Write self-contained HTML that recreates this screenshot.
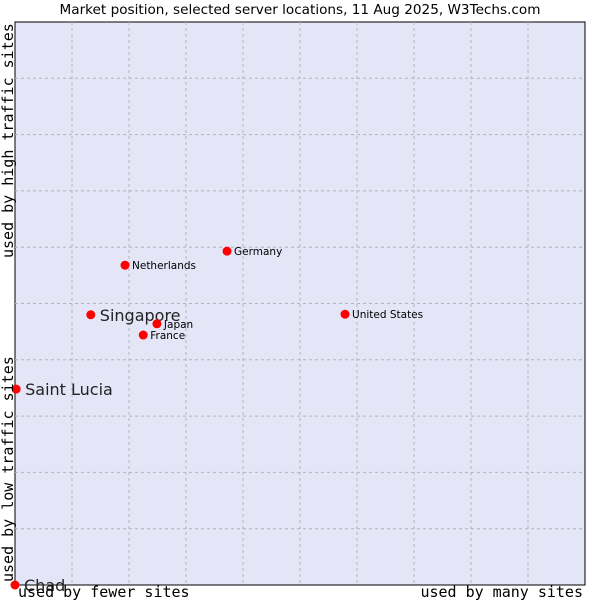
<!DOCTYPE html>
<html><head><meta charset="utf-8"><style>
body{margin:0;background:#fff;}
svg{display:block;}
</style></head><body>
<svg id="chart" width="600" height="600" xmlns="http://www.w3.org/2000/svg">
<rect x="0" y="0" width="600" height="600" fill="#fff"/>
<text x="300" y="14" text-anchor="middle" font-family="DejaVu Sans, sans-serif" font-size="13.6" fill="#000">Market position, selected server locations, 11 Aug 2025, W3Techs.com</text>
<rect x="15" y="22" width="570" height="563" fill="#e4e6f8" stroke="#000" stroke-width="1"/>
<g id="grid"></g>
<g id="points"></g>
<text x="18" y="597" font-family="DejaVu Sans Mono, monospace" font-size="15" fill="#000">used by fewer sites</text>
<text x="583" y="597" text-anchor="end" font-family="DejaVu Sans Mono, monospace" font-size="15" fill="#000">used by many sites</text>
<text transform="translate(13,582) rotate(-90)" font-family="DejaVu Sans Mono, monospace" font-size="15" fill="#000">used by low traffic sites</text>
<text transform="translate(13,258) rotate(-90)" font-family="DejaVu Sans Mono, monospace" font-size="15" fill="#000">used by high traffic sites</text>
</svg>
<script>
const names = ["Chad","Saint Lucia","Singapore","Netherlands","Germany","Japan","France","United States"];
const xValues = [0, 0.2, 13.3, 19.3, 37.2, 24.9, 22.5, 57.9];
const yValues = [0, 34.8, 48.0, 56.8, 59.3, 46.4, 44.4, 48.1];
const highlighted = [true, true, true, false, false, false, false, false];
const gridSteps = [10,20,30,40,50,60,70,80,90];

const NS = "http://www.w3.org/2000/svg";
const X0=15, X1=585, Y0=585, Y1=22;
function xs(v){return X0 + v/100*(X1-X0);}
function ys(v){return Y0 - v/100*(Y0-Y1);}
const grid=document.getElementById('grid');
gridSteps.forEach(function(g){
  const lv=document.createElementNS(NS,'line');
  
  
  lv.setAttribute('x1',xs(g));lv.setAttribute('x2',xs(g));lv.setAttribute('y1',Y1);lv.setAttribute('y2',Y0);
  lv.setAttribute('stroke','#b4b4b4');lv.setAttribute('stroke-dasharray','3,3');
  grid.appendChild(lv);
  const lh=document.createElementNS(NS,'line');
  
  
  lh.setAttribute('y1',ys(g));lh.setAttribute('y2',ys(g));lh.setAttribute('x1',X0);lh.setAttribute('x2',X1);
  lh.setAttribute('stroke','#b4b4b4');lh.setAttribute('stroke-dasharray','3,3');
  grid.appendChild(lh);
});
const pts=document.getElementById('points');
names.forEach(function(n,i){
  const cx=xs(xValues[i]), cy=ys(yValues[i]);
  const c=document.createElementNS(NS,'circle');
  
  
  c.setAttribute('cx',cx);c.setAttribute('cy',cy);c.setAttribute('r',4.5);c.setAttribute('fill','#f00');
  pts.appendChild(c);
  const t=document.createElementNS(NS,'text');
  
  
  const big=highlighted[i];
  t.setAttribute('x',cx+(big?9:7));t.setAttribute('y',cy+(big?6:4));
  t.setAttribute('font-family','DejaVu Sans, sans-serif');
  t.setAttribute('font-size',big?16:10.5);
  t.setAttribute('fill',big?'#222':'#000');
  t.textContent=n;
  pts.appendChild(t);
});
</script>
</body></html>
